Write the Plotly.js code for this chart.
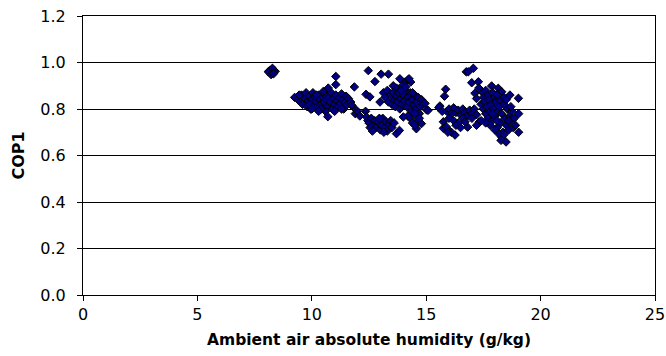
<!DOCTYPE html>
<html>
<head>
<meta charset="utf-8">
<script src="https://cdn.plot.ly/plotly-3.0.1.min.js"></script>
<style>html,body{margin:0;padding:0;background:#fff;}#chart{width:666px;height:356px;}</style>
</head>
<body>
<div id="chart"></div>
<script>
// Ambient air absolute humidity (g/kg)
const humidity = [
  8.15,8.25,8.35,8.2,8.3,8.1,8.4,8.28,8.22,8.33,
  9.25,9.4,9.5,9.55,9.6,9.7,9.75,9.8,9.85,9.9,9.95,10.0,10.05,10.1,10.15,10.2,10.25,10.3,10.35,10.4,
  10.45,10.5,10.55,10.6,10.65,10.7,10.75,10.8,10.85,10.9,10.95,11.0,11.05,11.1,11.15,11.2,11.25,11.3,11.35,11.4,
  11.45,11.5,11.55,11.6,11.7,11.8,9.9,10.2,10.5,10.0,10.6,10.4,11.0,11.3,
  11.05,11.05,10.72,10.7,10.3,9.45,
  12.47,13.03,13.35,12.76,12.37,12.54,12.98,13.13,13.56,13.85,14.07,13.7,13.95,14.2,14.32,14.25,
  13.2,13.3,13.35,13.45,13.5,13.55,13.6,13.65,13.7,13.75,13.8,13.85,13.9,13.95,14.0,14.05,14.1,14.15,14.2,14.25,
  14.3,14.35,14.4,14.45,14.5,14.55,14.6,14.65,14.7,14.75,14.8,14.86,14.95,15.02,15.08,14.1,13.9,14.4,14.5,14.3,
  14.6,14.79,14.57,14.4,14.2,14.0,14.5,14.7,
  11.74,11.9,11.86,12.0,12.1,12.35,12.4,12.45,12.5,12.6,12.7,12.75,12.8,12.9,13.0,13.05,13.1,13.2,13.25,13.3,
  13.4,13.45,13.5,13.6,13.7,13.83,12.55,12.95,13.15,12.65,
  15.6,15.8,15.85,15.55,15.7,15.75,15.75,15.97,16.1,16.26,15.88,15.95,16.75,
  15.9,16.0,16.1,16.2,16.3,16.4,16.5,16.6,16.7,16.8,16.9,17.0,17.1,17.2,16.0,16.2,16.4,16.6,16.81,16.5,16.3,16.7,
  16.84,17.06,16.99,17.28,17.13,17.43,17.86,18.15,18.3,18.66,19.03,17.3,17.6,17.5,17.2,17.7,17.9,18.0,
  17.4,17.5,17.55,17.6,17.65,17.7,17.75,17.8,17.85,17.9,17.95,18.0,18.05,18.1,18.15,18.2,18.25,18.3,18.35,18.4,
  18.45,18.5,18.55,18.6,18.65,18.7,18.75,18.8,18.3,18.2,18.27,18.49,18.1,17.8,17.6,17.9,18.0,18.4,18.6,18.7,
  18.2,18.4,17.32,17.0,17.2,17.4,19.04,19.04,18.85,18.9,18.5,18.1
];
// COP1
const cop1 = [
  0.965,0.97,0.965,0.955,0.958,0.96,0.962,0.975,0.948,0.952,
  0.85,0.84,0.83,0.86,0.82,0.845,0.87,0.81,0.835,0.855,0.80,0.84,0.87,0.82,0.85,0.83,0.81,0.86,0.84,0.82,
  0.855,0.80,0.83,0.86,0.84,0.81,0.85,0.83,0.87,0.80,0.845,0.82,0.86,0.835,0.81,0.85,0.825,0.865,0.84,0.80,
  0.83,0.855,0.82,0.845,0.83,0.81,0.82,0.86,0.875,0.80,0.79,0.80,0.79,0.80,
  0.94,0.905,0.89,0.767,0.79,0.86,
  0.965,0.95,0.95,0.918,0.863,0.852,0.83,0.87,0.90,0.93,0.916,0.89,0.90,0.925,0.916,0.93,
  0.85,0.88,0.83,0.86,0.82,0.87,0.84,0.81,0.855,0.83,0.87,0.80,0.845,0.82,0.86,0.835,0.88,0.81,0.85,0.83,
  0.87,0.79,0.84,0.815,0.86,0.80,0.83,0.85,0.78,0.81,0.84,0.823,0.824,0.796,0.794,0.895,0.88,0.87,0.78,0.76,
  0.75,0.737,0.715,0.74,0.77,0.766,0.73,0.76,
  0.816,0.78,0.895,0.79,0.77,0.79,0.765,0.75,0.74,0.76,0.73,0.75,0.72,0.745,0.71,0.73,0.76,0.72,0.745,0.705,
  0.735,0.75,0.72,0.74,0.694,0.708,0.72,0.76,0.70,0.705,
  0.813,0.855,0.885,0.806,0.79,0.745,0.717,0.71,0.70,0.688,0.723,0.70,0.96,
  0.79,0.80,0.78,0.805,0.785,0.795,0.775,0.80,0.785,0.77,0.795,0.78,0.80,0.775,0.76,0.75,0.74,0.76,0.722,0.72,0.73,0.745,
  0.96,0.975,0.913,0.917,0.868,0.874,0.899,0.889,0.874,0.86,0.846,0.89,0.88,0.85,0.845,0.86,0.87,0.85,
  0.82,0.80,0.83,0.78,0.81,0.76,0.84,0.79,0.82,0.75,0.80,0.77,0.83,0.72,0.79,0.81,0.74,0.78,0.70,0.82,
  0.76,0.73,0.80,0.71,0.77,0.75,0.79,0.72,0.68,0.69,0.665,0.658,0.75,0.73,0.74,0.78,0.71,0.69,0.75,0.81,
  0.84,0.85,0.744,0.76,0.73,0.75,0.78,0.70,0.76,0.73,0.84,0.86
];
const xTicks = [0, 5, 10, 15, 20, 25];
const yTicks = [0.0, 0.2, 0.4, 0.6, 0.8, 1.0, 1.2];
const xLabel = 'Ambient air absolute humidity (g/kg)';
const yLabel = 'COP1';

const trace = {
  type: 'scatter', mode: 'markers', x: humidity, y: cop1,
  marker: {symbol: 'diamond', size: 6.5, color: '#000080', line: {color: '#000000', width: 1}},
  hoverinfo: 'skip'
};
const fam = 'DejaVu Sans, Liberation Sans, Arial, sans-serif';
const layout = {
  width: 666, height: 356,
  margin: {l: 83, r: 11, t: 16, b: 61},
  paper_bgcolor: '#fff', plot_bgcolor: '#fff',
  showlegend: false, font: {family: fam, size: 16, color: '#000'},
  xaxis: {
    range: [0, 25], tickvals: xTicks, ticktext: xTicks.map(String),
    showgrid: false, zeroline: false, showline: true, mirror: true, linecolor: '#000', linewidth: 1,
    ticks: 'outside', ticklen: 5, tickcolor: '#000', tickwidth: 1,
    tickfont: {family: fam, size: 16, color: '#000'},
    title: {text: '<b>' + xLabel + '</b>', font: {family: fam, size: 15.5, color: '#000'}, standoff: 10}
  },
  yaxis: {
    range: [0, 1.2], tickvals: yTicks, ticktext: yTicks.map(v => v.toFixed(1)),
    showgrid: true, gridcolor: '#000', gridwidth: 1,
    zeroline: false, showline: true, mirror: true, linecolor: '#000', linewidth: 1,
    ticks: 'outside', ticklen: 5, tickcolor: '#000', tickwidth: 1,
    ticklabelstandoff: 8,
    tickfont: {family: fam, size: 16, color: '#000'},
    title: {text: '<b>' + yLabel + '</b>', font: {family: fam, size: 16, color: '#000'}, standoff: 11}
  }
};
Plotly.newPlot('chart', [trace], layout, {displayModeBar: false, staticPlot: true});
</script>
</body>
</html>
